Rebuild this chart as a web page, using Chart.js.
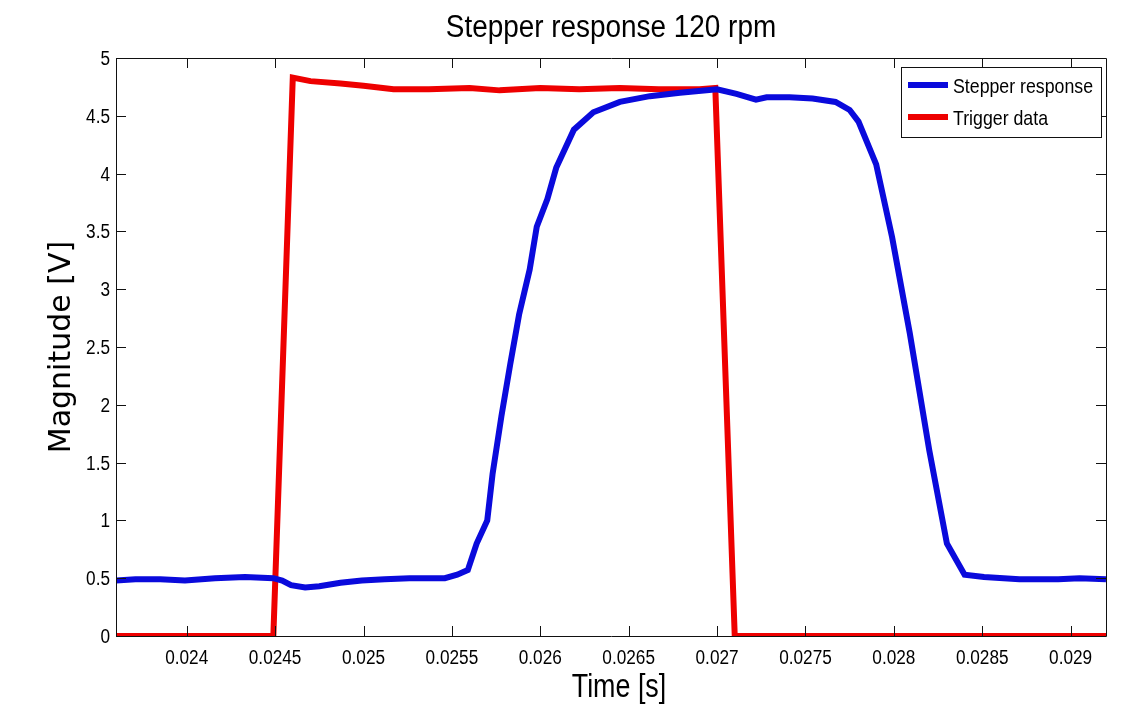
<!DOCTYPE html>
<html>
<head>
<meta charset="utf-8">
<script src="https://cdn.jsdelivr.net/npm/chart.js@4.4.1/dist/chart.umd.min.js"></script>
<style>
  html, body { margin: 0; padding: 0; background: #fff; }
  #wrap { width: 1138px; height: 715px; }
</style>
</head>
<body>
<div id="wrap"><canvas id="stepChart" width="1138" height="715"></canvas></div>
<script>
// Stepper response data (time in s, magnitude in V)
const blueTime = [
  0.02360, 0.02371, 0.02385, 0.02399, 0.02416, 0.02433, 0.02449, 0.02454,
  0.02459, 0.02467, 0.02475, 0.02487, 0.02499, 0.02512, 0.02526, 0.02546,
  0.02553, 0.02559, 0.02564, 0.02570, 0.02573, 0.02578, 0.02583, 0.02588,
  0.02594, 0.02598, 0.02604, 0.02609, 0.02619, 0.02630, 0.02645, 0.02662,
  0.02679, 0.02700, 0.02711, 0.02722, 0.02728, 0.02741, 0.02754, 0.02767,
  0.02775, 0.02780, 0.02790, 0.02799, 0.02809, 0.02820, 0.02830, 0.02840,
  0.02851, 0.02871, 0.02893, 0.02905, 0.02920
];
const blueVolts = [
  0.48, 0.49, 0.49, 0.48, 0.50, 0.51, 0.50, 0.48,
  0.44, 0.42, 0.43, 0.46, 0.48, 0.49, 0.50, 0.50,
  0.53, 0.57, 0.80, 1.00, 1.40, 1.90, 2.35, 2.78,
  3.17, 3.54, 3.78, 4.05, 4.38, 4.53, 4.62, 4.67,
  4.70, 4.73, 4.69, 4.64, 4.66, 4.66, 4.65, 4.62,
  4.55, 4.45, 4.08, 3.45, 2.62, 1.61, 0.80, 0.53,
  0.51, 0.49, 0.49, 0.50, 0.49
];

// Trigger pulse
const triggerTime = [
  0.02360, 0.02449, 0.02460, 0.02470, 0.02487, 0.02500, 0.02517, 0.02537,
  0.02560, 0.02577, 0.02600, 0.02622, 0.02645, 0.02667, 0.02690, 0.02699,
  0.02710, 0.02920
];
const triggerVolts = [
  0, 0, 4.83, 4.80, 4.78, 4.76, 4.73, 4.73,
  4.74, 4.72, 4.74, 4.73, 4.74, 4.73, 4.73, 4.74,
  0, 0
];

const seriesNames = ['Stepper response', 'Trigger data'];
const xTickLabels = ['0.024', '0.0245', '0.025', '0.0255', '0.026', '0.0265', '0.027', '0.0275', '0.028', '0.0285', '0.029'];
const yTickLabels = ['0', '0.5', '1', '1.5', '2', '2.5', '3', '3.5', '4', '4.5', '5'];
const xRange = [0.0236, 0.0292];
const yRange = [0, 5];
const chartTitle = 'Stepper response 120 rpm';
const xTitle = 'Time [s]';
const yTitle = 'Magnitude [V]';

const BLUE = 'rgb(10,10,220)';
const RED = 'rgb(238,0,0)';
const SANS = "'Liberation Sans', Arial, sans-serif";

const xTickValues = xTickLabels.map(Number);
const yTickValues = yTickLabels.map(Number);

function toPoints(xs, ys) {
  return xs.map((x, i) => ({ x: x, y: ys[i] }));
}

// the original figure is squeezed sideways, so horizontal text is drawn condensed
function drawNarrow(ctx, text, x, y, size, squeeze, align) {
  ctx.save();
  ctx.translate(x, y);
  ctx.scale(squeeze, 1);
  ctx.font = size + 'px ' + SANS;
  ctx.fillStyle = '#000';
  ctx.textAlign = align;
  ctx.textBaseline = 'alphabetic';
  ctx.fillText(text, 0, 0);
  ctx.restore();
}

// MATLAB-style box: full frame plus inward ticks on all four sides
const boxPlugin = {
  id: 'matlabBox',
  afterDatasetsDraw(chart) {
    const { ctx, chartArea: a, scales } = chart;
    const len = 10;
    ctx.save();
    ctx.strokeStyle = '#111';
    ctx.lineWidth = 1;
    ctx.beginPath();
    ctx.rect(a.left + 0.5, a.top + 0.5, a.right - a.left, a.bottom - a.top);
    xTickValues.forEach(v => {
      const px = Math.round(scales.x.getPixelForValue(v)) + 0.5;
      ctx.moveTo(px, a.bottom); ctx.lineTo(px, a.bottom - len);
      ctx.moveTo(px, a.top); ctx.lineTo(px, a.top + len);
    });
    yTickValues.forEach(v => {
      const py = Math.round(scales.y.getPixelForValue(v)) + 0.5;
      ctx.moveTo(a.left, py); ctx.lineTo(a.left + len, py);
      ctx.moveTo(a.right, py); ctx.lineTo(a.right - len, py);
    });
    ctx.stroke();
    ctx.restore();
  }
};

// Tick labels, title and x label in condensed text
const textPlugin = {
  id: 'narrowText',
  afterDraw(chart) {
    const { ctx, chartArea: a, scales } = chart;
    const mid = (a.left + a.right) / 2;
    drawNarrow(ctx, chartTitle, mid, 37, 31, 0.9, 'center');
    drawNarrow(ctx, xTitle, mid + 8, 697, 34, 0.79, 'center');
    xTickValues.forEach((v, i) => {
      drawNarrow(ctx, xTickLabels[i], scales.x.getPixelForValue(v), a.bottom + 28, 20, 0.86, 'center');
    });
    yTickValues.forEach((v, i) => {
      drawNarrow(ctx, yTickLabels[i], a.left - 6, scales.y.getPixelForValue(v) + 7, 20, 0.86, 'right');
    });
  }
};

// Boxed legend in the upper right corner of the axes
const legendPlugin = {
  id: 'boxLegend',
  afterDraw(chart) {
    const { ctx, chartArea: a } = chart;
    const w = 200, h = 70;
    const left = a.right - 5 - w, top = a.top + 9;
    ctx.save();
    ctx.fillStyle = '#fff';
    ctx.fillRect(left, top, w, h);
    ctx.strokeStyle = '#111';
    ctx.lineWidth = 1;
    ctx.strokeRect(left + 0.5, top + 0.5, w, h);
    chart.data.datasets.forEach((ds, i) => {
      const y = top + 18 + i * 32;
      ctx.strokeStyle = ds.borderColor;
      ctx.lineWidth = 6;
      ctx.beginPath();
      ctx.moveTo(left + 7, y);
      ctx.lineTo(left + 47, y);
      ctx.stroke();
      drawNarrow(ctx, ds.label, left + 52, y + 8, 21, 0.845, 'left');
    });
    ctx.restore();
  }
};

function initStepperChart() {
  const ctx = document.getElementById('stepChart').getContext('2d');
  new Chart(ctx, {
    type: 'line',
    data: {
      datasets: [
        {
          label: seriesNames[0],
          data: toPoints(blueTime, blueVolts),
          borderColor: BLUE,
          borderWidth: 6,
          pointRadius: 0,
          tension: 0,
          fill: false,
          clip: 0
        },
        {
          label: seriesNames[1],
          data: toPoints(triggerTime, triggerVolts),
          borderColor: RED,
          borderWidth: 6,
          pointRadius: 0,
          tension: 0,
          fill: false,
          clip: 0
        }
      ]
    },
    options: {
      responsive: false,
      animation: false,
      layout: { padding: { left: 0, right: 32, top: 58, bottom: 0 } },
      plugins: {
        legend: { display: false },
        tooltip: { enabled: false },
        title: { display: false }
      },
      scales: {
        x: {
          type: 'linear',
          min: xRange[0],
          max: xRange[1],
          grid: { display: false, drawTicks: false },
          border: { display: false },
          afterBuildTicks: s => { s.ticks = xTickValues.map(v => ({ value: v })); },
          afterFit: s => { s.height = 79; },
          ticks: { display: false }
        },
        y: {
          min: yRange[0],
          max: yRange[1],
          grid: { display: false, drawTicks: false },
          border: { display: false },
          afterBuildTicks: s => { s.ticks = yTickValues.map(v => ({ value: v })); },
          afterFit: s => { s.width = 116; },
          ticks: { display: false },
          title: {
            display: true,
            text: yTitle,
            color: '#000',
            font: { family: "'DejaVu Sans', sans-serif", size: 30 },
            padding: { top: 44, bottom: 0 }
          }
        }
      }
    },
    plugins: [boxPlugin, textPlugin, legendPlugin]
  });
}

window.addEventListener('DOMContentLoaded', initStepperChart);
</script>
</body>
</html>
